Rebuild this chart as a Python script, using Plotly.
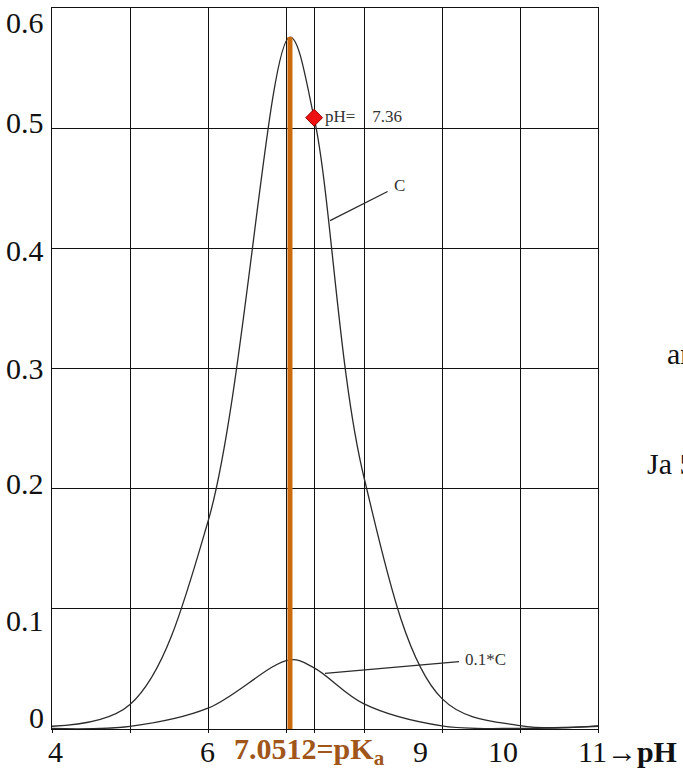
import plotly.graph_objects as go

# ---------------- data ----------------
ph_points = [4, 5, 6, 7.0512, 7.36, 8, 9, 10, 11]
beta_C = [0.0023, 0.0203, 0.1727, 0.5758, 0.5087, 0.2093, 0.0253, 0.0028, 0.0026]
beta_01C = [0.0004, 0.0022, 0.0173, 0.0576, 0.0509, 0.0209, 0.0026, 0.0005, 0.0023]

pKa = 7.0512
pKa_peak = 0.5758
marker_ph = 7.36
marker_beta = 0.5087

x_grid_vals = [4, 5, 6, 7, 7.36, 8, 9, 10, 11]
y_tick_vals = [0, 0.1, 0.2, 0.3, 0.4, 0.5, 0.6]
y_tick_text = ["0", "0.1", "0.2", "0.3", "0.4", "0.5", "0.6"]
x_label_vals = [4, 6, 9, 10]
x_label_text = ["4", "6", "9", "10"]

# ---------------- styling / layout ----------------
SERIF = "Liberation Serif, Times New Roman, serif"
CURVE = "#2b2b2b"
GRID = "#111111"
ORANGE_LINE = "#CC6A0E"
ORANGE_TEXT = "#A0561A"

fig = go.Figure()

fig.add_trace(go.Scatter(
    x=ph_points, y=beta_C, mode="lines",
    line=dict(color=CURVE, width=1.3, shape="spline", smoothing=1.0),
    hoverinfo="skip", showlegend=False))
fig.add_trace(go.Scatter(
    x=ph_points, y=beta_01C, mode="lines",
    line=dict(color=CURVE, width=1.3, shape="spline", smoothing=1.0),
    hoverinfo="skip", showlegend=False))

# orange pKa line
fig.add_trace(go.Scatter(
    x=[pKa, pKa], y=[0, pKa_peak], mode="lines",
    line=dict(color=ORANGE_LINE, width=5),
    hoverinfo="skip", showlegend=False))

# red diamond marker
fig.add_trace(go.Scatter(
    x=[marker_ph], y=[marker_beta], mode="markers",
    marker=dict(symbol="diamond", size=13, color="#EE1111",
                line=dict(color="#9a0000", width=1)),
    hoverinfo="skip", showlegend=False, cliponaxis=False))

annotations = []

# y-axis labels (as annotations to reproduce their offsets)
y_shifts = {0: 12, 0.1: -12, 0.2: 5, 0.3: 0, 0.4: -2, 0.5: 6, 0.6: -14}
for v, t in zip(y_tick_vals, y_tick_text):
    annotations.append(dict(
        x=0, xref="paper", y=v, yref="y", text=t, showarrow=False,
        xanchor="right", yanchor="middle", xshift=-6, yshift=y_shifts[v],
        font=dict(family=SERIF, size=30, color="#111111")))

# x-axis labels
x_shifts = {4: 3, 6: -1, 9: -22, 10: -17}
for v, t in zip(x_label_vals, x_label_text):
    annotations.append(dict(
        x=v, xref="x", y=0, yref="paper", text=t, showarrow=False,
        xanchor="center", yanchor="middle", xshift=x_shifts[v], yshift=-22,
        font=dict(family=SERIF, size=30, color="#111111")))

annotations.append(dict(
    x=pKa, xref="x", y=0, yref="paper",
    text="<b>7.0512=pK<sub>a</sub></b>", showarrow=False,
    xanchor="center", yanchor="middle", xshift=20, yshift=-22,
    font=dict(family=SERIF, size=30, color=ORANGE_TEXT)))

annotations.append(dict(
    x=11, xref="x", y=0, yref="paper",
    text="11\u2192<b>pH</b>", showarrow=False,
    xanchor="left", yanchor="middle", xshift=-22, yshift=-22,
    font=dict(family=SERIF, size=30, color="#111111")))

# marker label
annotations.append(dict(
    x=marker_ph, xref="x", y=marker_beta, yref="y",
    text="pH=\u00a0\u00a0\u00a0 7.36", showarrow=False,
    xanchor="left", yanchor="middle", xshift=9, yshift=1,
    font=dict(family=SERIF, size=17, color="#333333")))

# curve callouts
annotations.append(dict(
    x=7.565, xref="x", y=0.423, yref="y", text="C",
    showarrow=True, arrowhead=0, arrowwidth=1.3, arrowcolor=CURVE,
    ax=69, ay=-35, startstandoff=5, standoff=0,
    font=dict(family=SERIF, size=17, color="#333333")))
annotations.append(dict(
    x=7.50, xref="x", y=0.0463, yref="y", text="0.1*C",
    showarrow=True, arrowhead=0, arrowwidth=1.3, arrowcolor=CURVE,
    ax=160, ay=-14, startstandoff=4, standoff=0,
    font=dict(family=SERIF, size=17, color="#333333")))

# clipped side text on the right (pixel positions converted to paper coords)
L, R, T, B = 52, 85, 8, 40
W, H = 683, 769
pw, ph_ = W - L - R, H - T - B
for px, py, t in [(665, 353, "ar"), (645, 464, "Ja 5")]:
    annotations.append(dict(
        x=(px - L) / pw, xref="paper", y=(H - B - py) / ph_, yref="paper",
        text=t, showarrow=False, xanchor="left", yanchor="middle",
        font=dict(family=SERIF, size=30, color="#111111")))

fig.update_layout(
    width=W, height=H,
    margin=dict(l=L, r=R, t=T, b=B, pad=0),
    paper_bgcolor="white", plot_bgcolor="white",
    annotations=annotations,
    showlegend=False,
)

fig.update_xaxes(
    range=[4, 11], tickmode="array", tickvals=x_grid_vals,
    showticklabels=False, ticks="outside", ticklen=3, tickcolor=GRID, tickwidth=1.2,
    showgrid=True, gridcolor=GRID, gridwidth=1.2,
    showline=True, linecolor=GRID, linewidth=1.3, mirror=True,
    zeroline=False, fixedrange=True)
fig.update_yaxes(
    range=[0, 0.6], tickmode="array", tickvals=y_tick_vals,
    showticklabels=False, ticks="",
    showgrid=True, gridcolor=GRID, gridwidth=1.2,
    showline=True, linecolor=GRID, linewidth=1.3, mirror=True,
    zeroline=False, fixedrange=True)

fig.write_html(
    "out.html",
    config={"displayModeBar": False},
    post_script="document.body.style.margin='0';document.body.style.overflow='hidden';",
)
